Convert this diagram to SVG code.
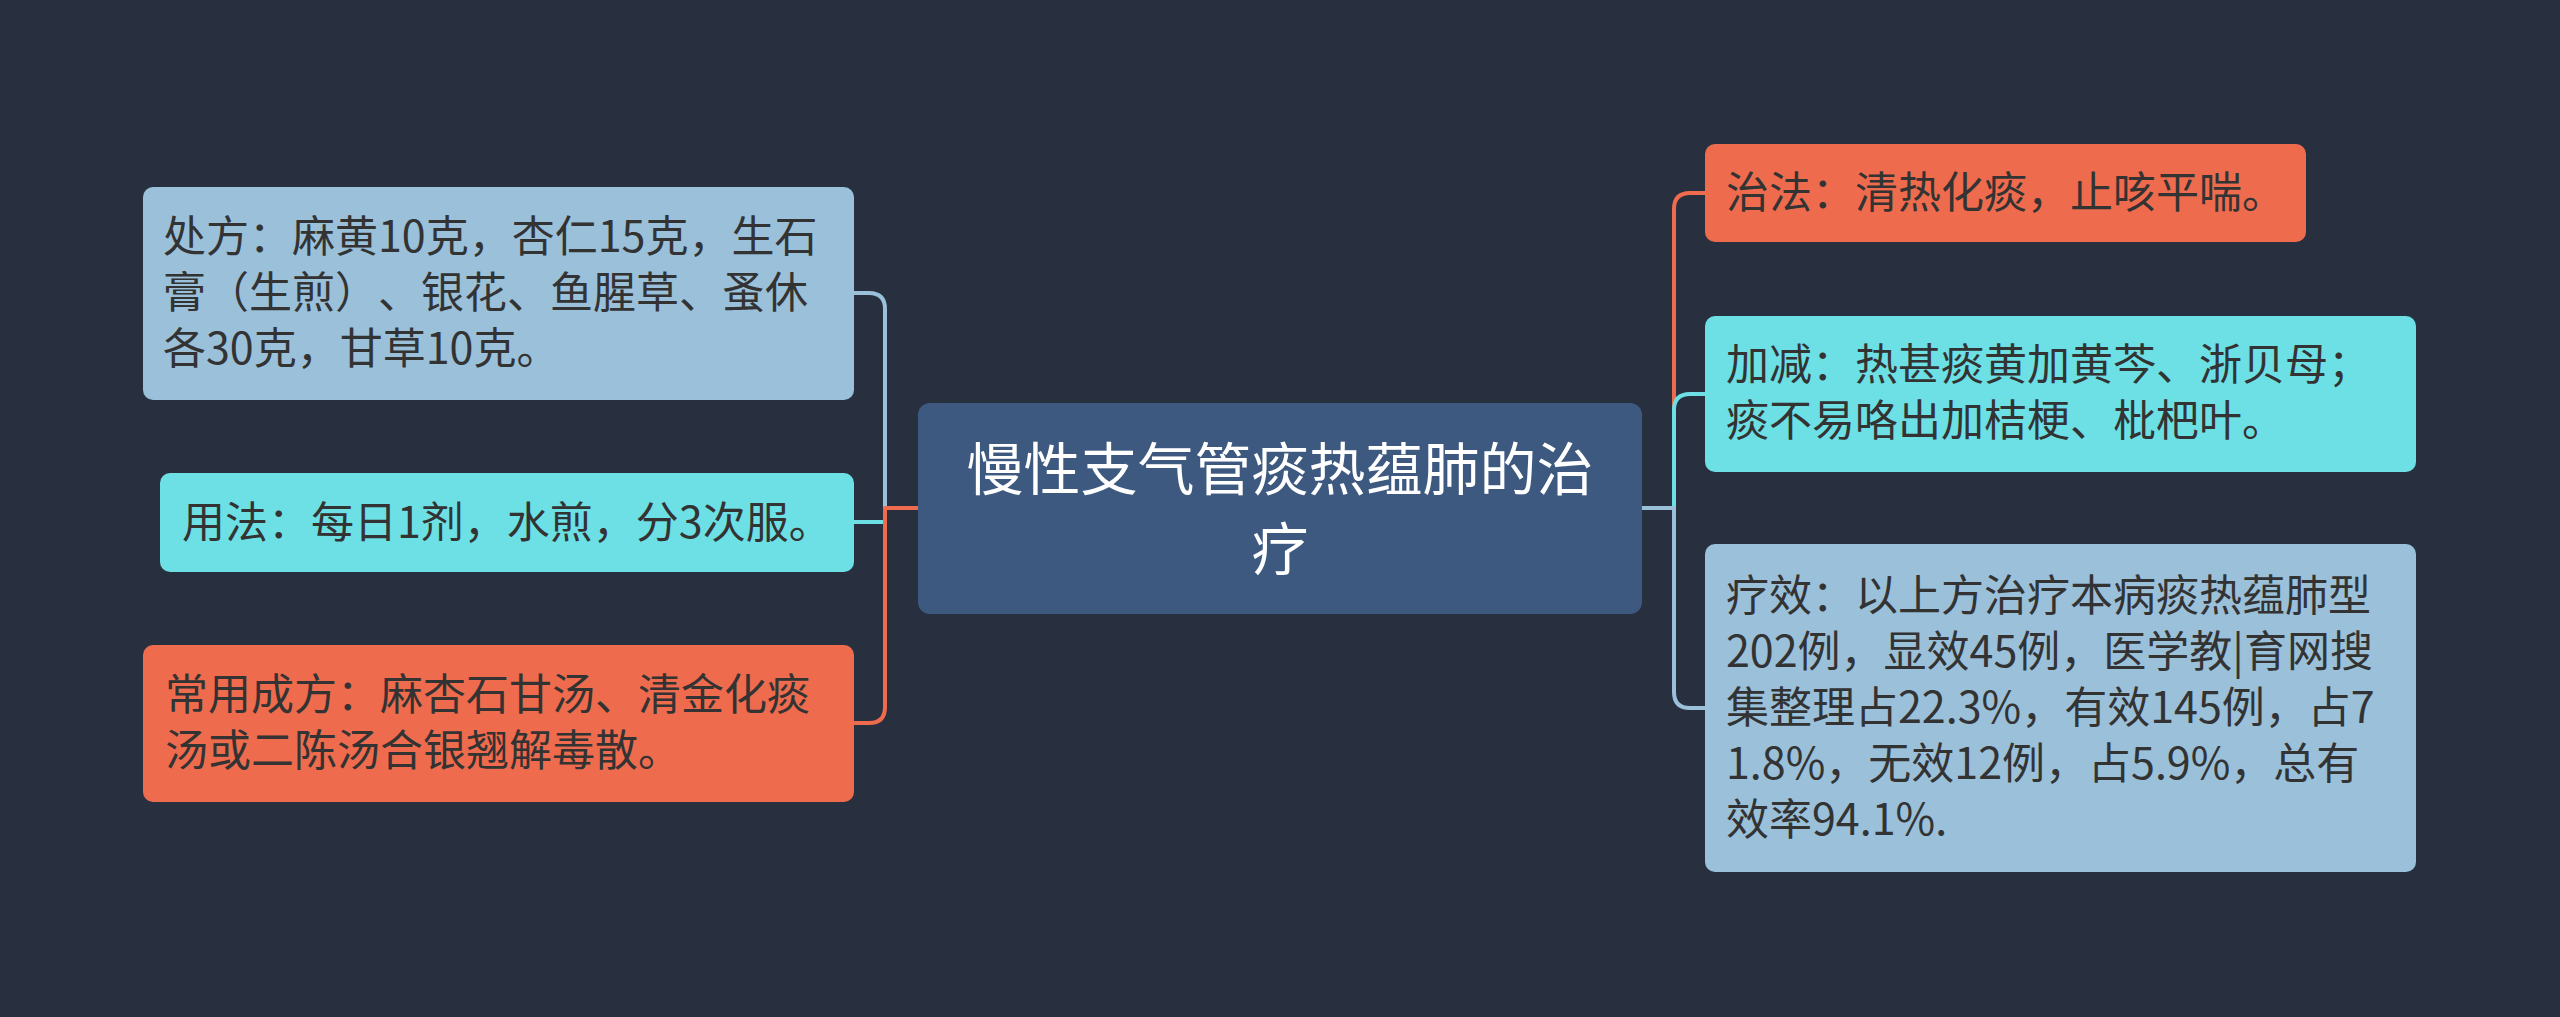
<svg xmlns="http://www.w3.org/2000/svg" width="2560" height="1017" viewBox="0 0 2560 1017">
<style>
.bg{fill:#28303f}
.root rect{fill:#3d5980}
.blue rect{fill:#9ac0da}
.cyan rect{fill:#6ce0e4}
.red rect{fill:#ee6b4e}
text{font-family:"Noto Sans CJK SC","Microsoft YaHei",sans-serif;font-size:43px;fill:#333333;text-spacing-trim:space-all;font-kerning:none}
.root text{font-size:57px;fill:#ffffff;text-anchor:middle}
.conn path{fill:none;stroke-width:4;stroke-linejoin:round}
.c-blue{stroke:#9ac0da}
.c-cyan{stroke:#6ce0e4}
.c-red{stroke:#ee6b4e}
</style>
<rect class="bg" x="0" y="0" width="2560" height="1017"/>

<g id="connectors" class="conn">
  <path class="c-blue" d="M918,508 H885 V309 Q885,293 869,293 H854"/>
  <path class="c-cyan" d="M918,508 H885 V522 H854"/>
  <path class="c-red" d="M918,508 H885 V707 Q885,723 869,723 H854"/>
  <path class="c-red" d="M1642,508 H1674 V209 Q1674,193 1690,193 H1706"/>
  <path class="c-cyan" d="M1642,508 H1674 V410 Q1674,394 1690,394 H1706"/>
  <path class="c-blue" d="M1642,508 H1674 V692 Q1674,708 1690,708 H1706"/>
</g>

<g id="root" class="node root">
  <rect x="918" y="403" width="724" height="211" rx="12"/>
  <text x="1280" y="490">慢性支气管痰热蕴肺的治</text>
  <text x="1280" y="570">疗</text>
</g>

<g id="chufang" class="node blue">
  <rect x="143" y="187" width="711" height="213" rx="10"/>
  <text x="163" y="252">处方：麻黄10克，杏仁15克，生石</text>
  <text x="163" y="308">膏（生煎）、银花、鱼腥草、蚤休</text>
  <text x="163" y="364">各30克，甘草10克。</text>
</g>

<g id="yongfa" class="node cyan">
  <rect x="160" y="473" width="694" height="99" rx="10"/>
  <text x="182" y="538">用法：每日1剂，水煎，分3次服。</text>
</g>

<g id="changyong" class="node red">
  <rect x="143" y="645" width="711" height="157" rx="10"/>
  <text x="165" y="710">常用成方：麻杏石甘汤、清金化痰</text>
  <text x="165" y="766">汤或二陈汤合银翘解毒散。</text>
</g>

<g id="zhifa" class="node red">
  <rect x="1705" y="144" width="601" height="98" rx="10"/>
  <text x="1726" y="208">治法：清热化痰，止咳平喘。</text>
</g>

<g id="jiajian" class="node cyan">
  <rect x="1705" y="316" width="711" height="156" rx="10"/>
  <text x="1726" y="380">加减：热甚痰黄加黄芩、浙贝母；</text>
  <text x="1726" y="436">痰不易咯出加桔梗、枇杷叶。</text>
</g>

<g id="liaoxiao" class="node blue">
  <rect x="1705" y="544" width="711" height="328" rx="10"/>
  <text x="1726" y="611">疗效：以上方治疗本病痰热蕴肺型</text>
  <text x="1726" y="667">202例，显效45例，医学教|育网搜</text>
  <text x="1726" y="723">集整理占22.3%，有效145例，占7</text>
  <text x="1726" y="779">1.8%，无效12例，占5.9%，总有</text>
  <text x="1726" y="835">效率94.1%.</text>
</g>
</svg>
